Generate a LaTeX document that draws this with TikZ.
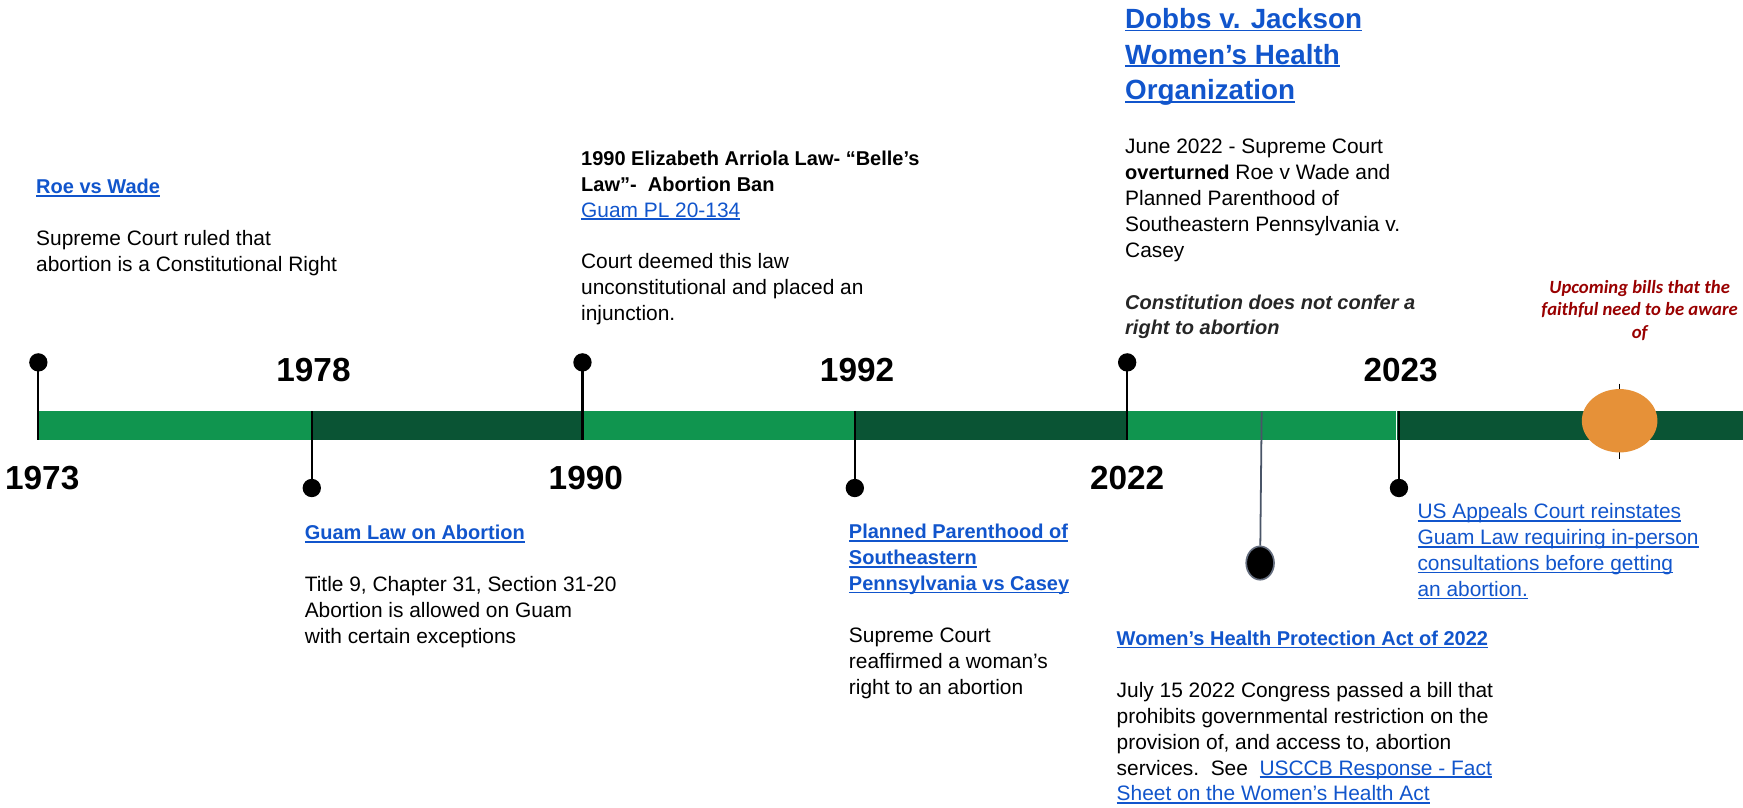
\documentclass[tikz,border=0pt]{standalone}
\usepackage{fontspec}
\setmainfont{Liberation Sans}
\newfontfamily\calibrifont{Carlito}
\usetikzlibrary{shapes.geometric}

\definecolor{barlight}{HTML}{10954F}
\definecolor{bardark}{HTML}{0A5434}
\definecolor{linkblue}{HTML}{1155CC}
\definecolor{orangedot}{HTML}{E69138}
\definecolor{warnred}{HTML}{990000}
\definecolor{pinslate}{HTML}{4A5568}

\newsavebox{\lnkbox}
\newcommand{\ulbox}[1]{\sbox{\lnkbox}{#1}\rlap{\rule[-2.6pt]{\wd\lnkbox}{1.5pt}}\usebox{\lnkbox}}
\newcommand{\cardfont}{\fontsize{18.8}{23.3}\selectfont}
\newcommand{\hdfont}{\fontsize{18}{23.3}\selectfont\bfseries}
\newcommand{\tstr}{\rule{0pt}{15pt}}
\newcommand{\lnk}[1]{\textcolor{linkblue}{\ulbox{#1}}}
\newcommand{\lnkb}[1]{{\hdfont\textcolor{linkblue}{\ulbox{#1}}}}

\begin{document}
\begin{tikzpicture}[x=1pt,y=-1pt,
  card/.style={anchor=north west,inner sep=0pt,align=left,font=\cardfont},
  year/.style={anchor=base,inner sep=0pt,font=\fontsize{30}{30}\selectfont\bfseries},
  pin dot/.style={circle,fill=black,inner sep=0pt,minimum size=16.5pt},
  stem/.style={line width=2pt}]
  \fill[white] (0,0) rectangle (1568,726);
  \useasboundingbox (0,0) rectangle (1568,726);

  % the time line
  \foreach \xa/\xb/\col in {34.5/280/barlight,280/524/bardark,524/769/barlight,
      769/1013/bardark,1013/1255.5/barlight,1257/1568/bardark}
    \fill[fill=\col] (\xa,370) rectangle (\xb,395.5);

  \node[year] (y73) at (38,440.6) {1973};
  \node[year] (y78) at (282,343.6) {1978};
  \node[year] (y90) at (527,440.6) {1990};
  \node[year] (y92) at (771,343.6) {1992};
  \node[year] (y22) at (1014,440.6) {2022};
  \node[year] (y23) at (1260,343.6) {2023};

  \node[pin dot] (d73) at (34.5,326) {};
  \node[pin dot] (d78) at (280.5,439) {};
  \node[pin dot] (d90) at (524,326) {};
  \node[pin dot] (d92) at (769,439) {};
  \node[pin dot] (d22) at (1014,326) {};
  \node[pin dot] (d23) at (1258.5,439) {};
  \foreach \n/\y in {73/395.5,78/370,90/395.5,92/370,22/395.5,23/370}{
    \coordinate (t\n) at (d\n |- 0,\y);
    \draw[stem] (d\n.center) -- (t\n);
  }

  \node[ellipse,fill=black,draw=pinslate!85,line width=1.5pt,inner sep=0pt,
    minimum width=25pt,minimum height=30pt] (dwh) at (1133.6,506.5) {};
  \coordinate (twh) at (1135,370.5);
  \draw[pinslate,line width=1.6pt] (twh) -- (dwh);

  \coordinate (upT) at (1457,345);
  \coordinate (upB) at (1457,413);
  \draw[line width=1.5pt] (upT) -- (upB);
  \node[ellipse,fill=orangedot,inner sep=0pt,minimum width=68pt,minimum height=57pt] (up) at (1457,378.5) {};

  % event cards
  \node[card] (roe) at (32.4,159) {\tstr\lnkb{Roe vs Wade}\\[23.3pt]
    Supreme Court ruled that\\
    abortion is a Constitutional Right};
  \node[card] (guam) at (274,470.4) {\tstr\lnkb{Guam Law on Abortion}\\[23.3pt]
    Title 9, Chapter 31, Section 31-20\\
    Abortion is allowed on Guam\\
    with certain exceptions};
  \node[card] (belle) at (522.6,133.5) {\tstr{\hdfont 1990 Elizabeth Arriola Law- “Belle’s}\\
    {\hdfont Law”-\ \ Abortion Ban}\\
    \lnk{Guam PL 20-134}\\[23.3pt]
    Court deemed this law\\
    unconstitutional and placed an\\
    injunction.};
  \node[card] (casey) at (763.5,469.5) {\tstr\lnkb{Planned Parenthood of}\\
    \lnkb{Southeastern}\\
    \lnkb{Pennsylvania vs Casey}\\[23.3pt]
    Supreme Court\\
    reaffirmed a woman’s\\
    right to an abortion};
  \node[card,font=\fontsize{25}{32}\selectfont\bfseries] (dobbsT) at (1012,5.5) {\rule{0pt}{20pt}\lnk{Dobbs v. Jackson}\\
    \lnk{Women’s Health}\\
    \lnk{Organization}};
  \node[card] (dobbsB) at (1012,123) {\tstr June 2022 - Supreme Court\\
    {\hdfont overturned} Roe v Wade and\\
    Planned Parenthood of\\
    Southeastern Pennsylvania v.\\
    Casey\\[23.3pt]
    {\hdfont\itshape\color{black!85}Constitution does not confer a}\\
    {\hdfont\itshape\color{black!85}right to abortion}};
  \node[card] (whpa) at (1004.4,565.5) {\tstr\lnkb{Women’s Health Protection Act of 2022}\\[23.3pt]
    July 15 2022 Congress passed a bill that\\
    prohibits governmental restriction on the\\
    provision of, and access to, abortion\\
    services.\ \ See\ \ \lnk{USCCB Response - Fact}\\
    \lnk{Sheet on the Women’s Health Act}};
  \node[card] (appeals) at (1275,451.5) {\tstr\lnk{US Appeals Court reinstates}\\
    \lnk{Guam Law requiring in-person}\\
    \lnk{consultations before getting}\\
    \lnk{an abortion.}};
  \node[anchor=north,inner sep=0pt,align=center,text=warnred,
    font=\calibrifont\bfseries\itshape\fontsize{16.8}{20}\selectfont] (bills) at (1475,251)
    {\rule{0pt}{13pt}Upcoming bills that the\\faithful need to be aware\\of};
\end{tikzpicture}
\end{document}
